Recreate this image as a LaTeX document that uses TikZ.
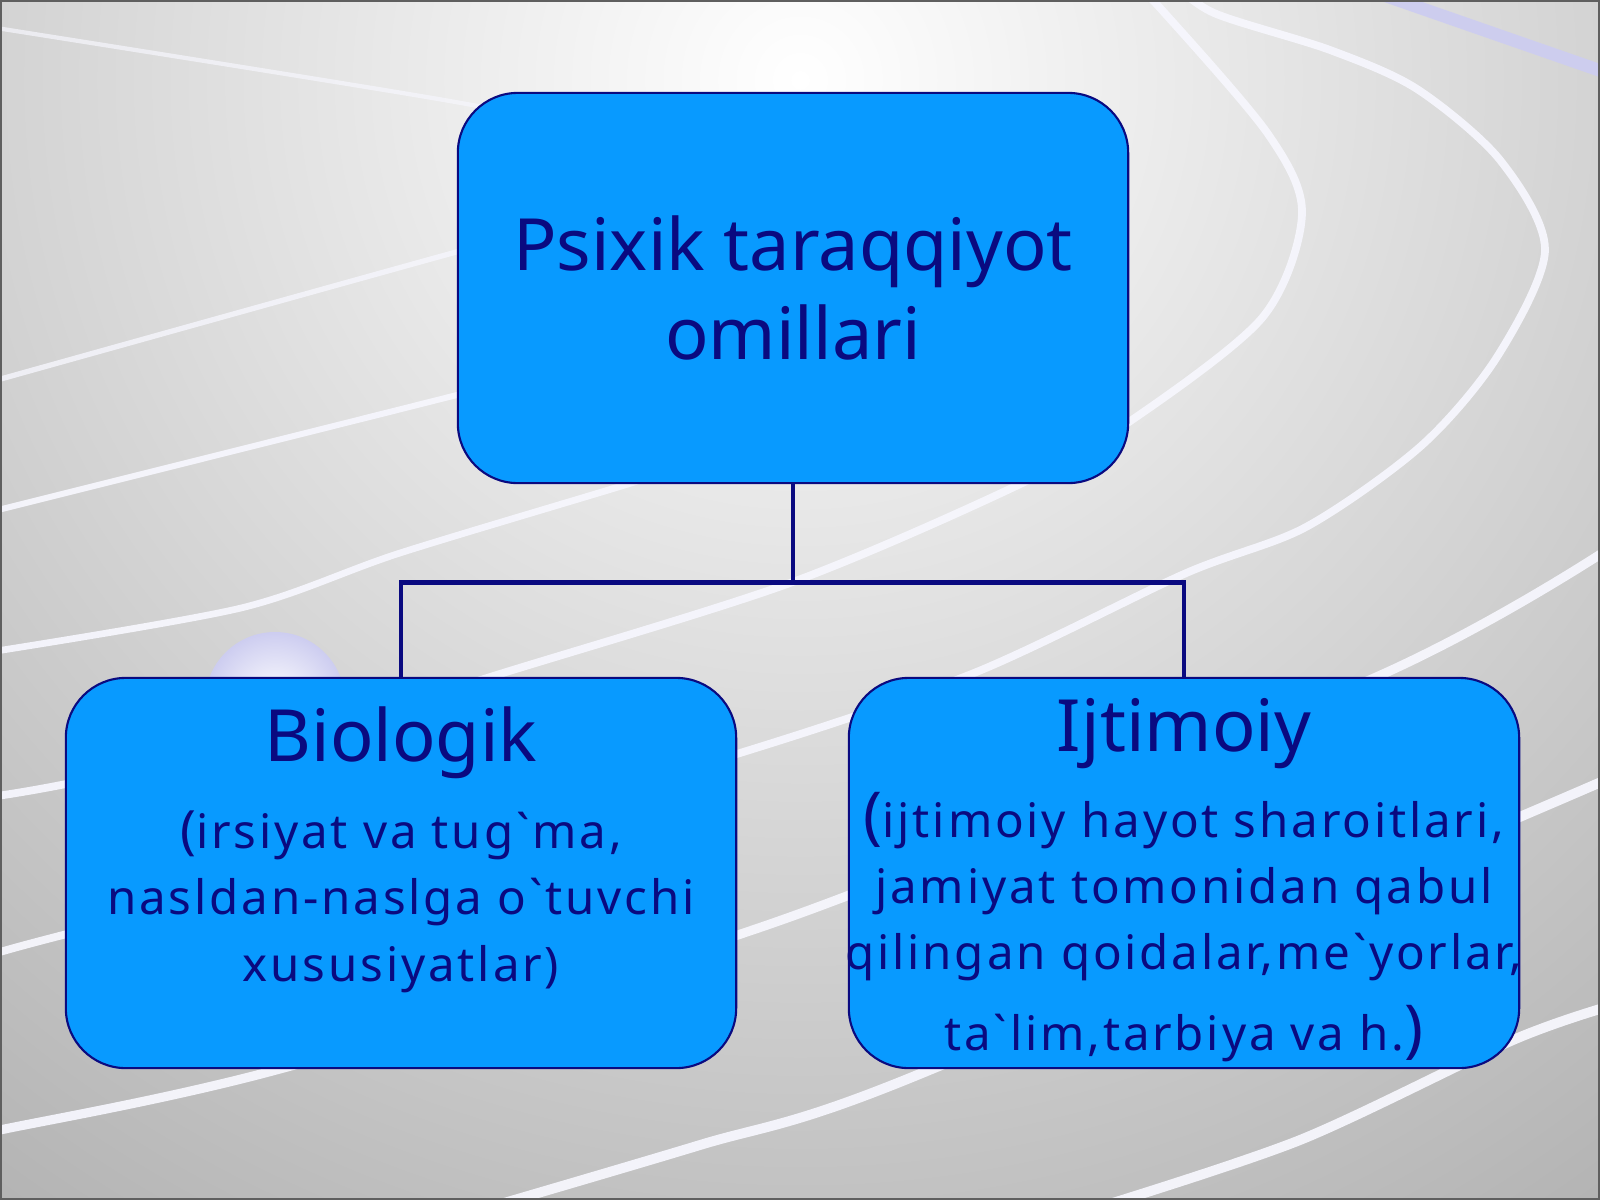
\documentclass[tikz,border=0pt]{standalone}
\usepackage{fontspec}
\setmainfont{Noto Sans}[Ligatures=TeXOff]
\newfontfamily\subfont{Noto Sans}[Ligatures=TeXOff, LetterSpace=6]
\usetikzlibrary{positioning}

\definecolor{boxblue}{RGB}{8,154,255}
\definecolor{inkblue}{RGB}{10,10,128}
\definecolor{bggray}{RGB}{140,140,140}
\definecolor{lanewhite}{RGB}{246,246,253}
\definecolor{lanelilac}{RGB}{205,205,240}
\definecolor{edgegray}{RGB}{95,95,95}

\tikzset{
	factor/.style={draw=inkblue, line width=0.6pt, fill=boxblue, rounded corners=0.6cm,
		minimum width=6.7cm, minimum height=3.9cm},
	link/.style={draw=inkblue, line width=1.4pt},
	lane/.style={draw=lanewhite, line width=2.2pt, opacity=0.95, line cap=round},
	headtext/.style={text=inkblue, font=\fontsize{20.5}{25.5}\selectfont, align=center, inner sep=0pt},
	subtext/.style={text=inkblue, font=\subfont\fontsize{13.5}{18.8}\selectfont, align=center, inner sep=0pt},
}

\begin{document}
\begin{tikzpicture}[x=0.01cm, y=-0.01cm]
	\useasboundingbox (0,0) rectangle (1600,1200);
	% background and track lines
	\begin{scope}
		\clip (0,0) rectangle (1600,1200);
		\shade[inner color=white, outer color=bggray] (800,80) circle (2100);
		\draw[lane, line width=1.2pt, opacity=0.7] plot[smooth] coordinates {(-10,27) (444,100) (700,150)};
		\draw[lane, line width=1.5pt, opacity=0.8] plot[smooth] coordinates {(-10,382) (449,254) (650,200)};
		\draw[lane, line width=1.7pt] plot[smooth] coordinates {(-10,512) (449,397) (650,345)};
		\draw[lane, line width=1.9pt] plot[smooth] coordinates {(-10,652) (241,608) (400,553) (628,484) (700,460)};
		\draw[lane] plot[smooth] coordinates {(1130,-20) (1161,9) (1268,134) (1302,214) (1262,318)
			(1126,424) (1014,487) (790,583) (503,673) (300,735) (66,784) (-10,797)};
		\draw[lane] plot[smooth] coordinates {(1170,-20) (1214,13) (1330,50) (1417,89) (1500,160)
			(1545,250) (1497,357) (1421,446) (1306,527) (1184,574) (974,673) (740,753) (400,850) (63,935) (-10,955)};
		\draw[lane, line width=2.6pt] plot[smooth] coordinates {(1610,548) (1383,674) (790,917)
			(276,1070) (0,1130) (-10,1132)};
		\draw[lane, line width=2.8pt] plot[smooth] coordinates {(480,1210) (700,1145) (900,1082) (1515,819) (1610,778)};
		\draw[lane, line width=2.8pt] plot[smooth] coordinates {(1090,1210) (1300,1140) (1513,1040) (1610,1006)};
		\draw[lane, draw=lanelilac, line width=3.6pt] (1383,-5) -- (1610,74);
		\shade[inner color=white, outer color=lanelilac] (275,702) circle (70);
	\end{scope}
	\draw[edgegray, line width=1.2pt] (0,0) rectangle (1600,1200);

	% boxes
	\node[factor, headtext] (root) at (793,288) {Psixik taraqqiyot\\omillari};
	\node[factor] (bio) at (401,873) {};
	\node[factor] (soc) at (1184,873) {};

	\node[headtext, anchor=base] (biohead) at (401,761) {Biologik};
	\node[subtext, anchor=base] (biosub) at (401,981)
		{{\fontsize{15}{15}\selectfont(}irsiyat va tug`ma,\\nasldan-naslga o`tuvchi\\xususiyatlar)};
	\node[headtext, anchor=base] (sochead) at (1184,751) {Ijtimoiy};
	\node[subtext, anchor=base] (socsub) at (1184,1050)
		{{\fontsize{18}{18}\selectfont(}ijtimoiy hayot sharoitlari,\\jamiyat tomonidan qabul\\
		qilingan qoidalar,me`yorlar,\\[4pt]ta`lim,tarbiya va h.{\fontsize{18}{18}\selectfont)}};

	% connectors
	\draw[link] (root.south) -- ++(0,98) -| (bio.north);
	\draw[link] (root.south) -- ++(0,98) -| (soc.north);
\end{tikzpicture}
\end{document}
